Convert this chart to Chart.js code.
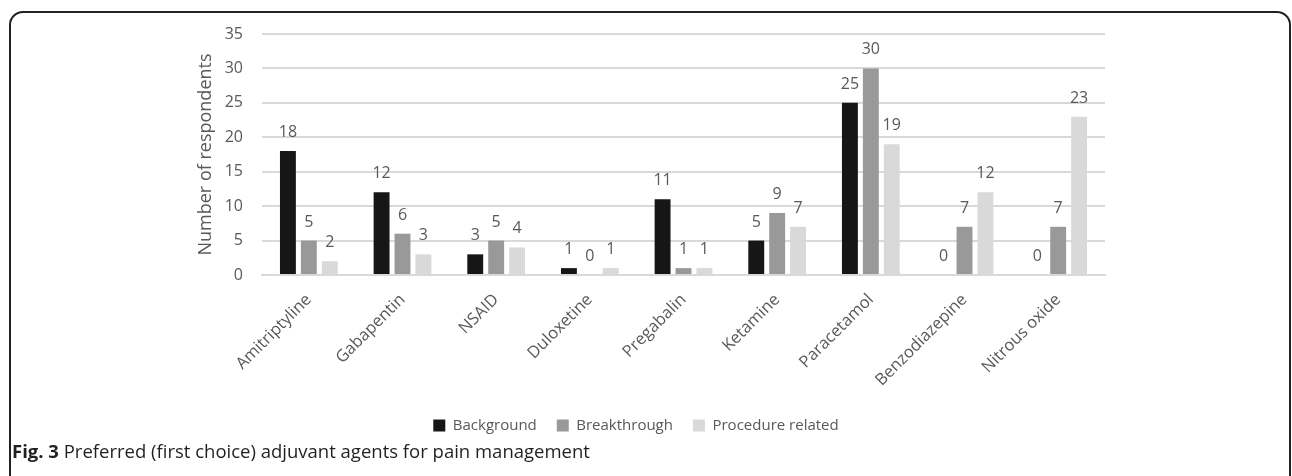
<!DOCTYPE html>
<html>
<head>
<meta charset="utf-8">
<script src="https://cdn.jsdelivr.net/npm/chart.js@4"></script>
<style>
  html, body { margin: 0; padding: 0; background: #fff; width: 1292px; height: 476px; overflow: hidden; }
  #frame { position: absolute; left: 9px; top: 11px; width: 1282px; height: 520px; border: 2px solid #222; border-radius: 14px; box-sizing: border-box; }
  #wrap { position: absolute; left: 10px; top: 0px; width: 1176px; height: 443px; }
  #caption { position: absolute; left: 12px; top: 438px; font-family: "Open Sans", sans-serif; font-size: 18.5px; color: #231f20; white-space: nowrap; }
  #caption b { font-weight: 700; }
</style>
</head>
<body>
<div id="frame"></div>
<div id="wrap"><canvas id="c" width="1176" height="443"></canvas></div>
<div id="caption"><b>Fig. 3</b> Preferred (first choice) adjuvant agents for pain management</div>
<script>
const categories = ["Amitriptyline","Gabapentin","NSAID","Duloxetine","Pregabalin","Ketamine","Paracetamol","Benzodiazepine","Nitrous oxide"];
const background = [18,12,3,1,11,5,25,0,0];
const breakthrough = [5,6,5,0,1,9,30,7,7];
const procedureRelated = [2,3,4,1,1,7,19,12,23];
const seriesNames = ["Background","Breakthrough","Procedure related"];
const yTicks = [0,5,10,15,20,25,30,35];

const textColor = "#595959";
const fontFam = "'Open Sans', sans-serif";

const dataLabels = {
  id: 'dataLabels',
  afterDatasetsDraw(chart) {
    const ctx = chart.ctx;
    ctx.save();
    ctx.font = "16px " + fontFam;
    ctx.fillStyle = textColor;
    ctx.textAlign = 'center';
    ctx.textBaseline = 'alphabetic';
    chart.data.datasets.forEach((ds, i) => {
      const meta = chart.getDatasetMeta(i);
      meta.data.forEach((bar, j) => {
        ctx.fillText(String(ds.data[j]), bar.x, bar.y - 14);
      });
    });
    ctx.restore();
  }
};

new Chart(document.getElementById('c'), {
  type: 'bar',
  data: {
    labels: categories,
    datasets: [
      { label: seriesNames[0], data: background, backgroundColor: '#161616' },
      { label: seriesNames[1], data: breakthrough, backgroundColor: '#999999' },
      { label: seriesNames[2], data: procedureRelated, backgroundColor: '#d9d9d9' }
    ]
  },
  options: {
    responsive: false,
    animation: false,
    devicePixelRatio: 1,
    layout: { padding: { top: 34, left: 157, right: 81, bottom: 0 } },
    datasets: { bar: { categoryPercentage: 0.67, barPercentage: 0.76, borderWidth: 0 } },
    plugins: {
      legend: {
        position: 'bottom',
        labels: { boxWidth: 12, boxHeight: 12, color: textColor, font: { size: 15, family: fontFam }, padding: 20 }
      },
      tooltip: { enabled: false }
    },
    scales: {
      x: {
        grid: { display: false, drawTicks: false },
        border: { display: true, color: '#d9d9d9', width: 2 },
        ticks: { color: textColor, font: { size: 16.5, family: fontFam }, minRotation: 45, maxRotation: 45, padding: 15, autoSkip: false },
        afterFit(scale) { scale.height = 123; }
      },
      y: {
        min: 0, max: 35,
        afterBuildTicks(scale) { scale.ticks = yTicks.map(v => ({ value: v })); },
        grid: { color: '#d9d9d9', lineWidth: 2, drawTicks: false },
        border: { display: false },
        ticks: { color: textColor, font: { size: 16, family: fontFam }, padding: 19 },
        title: { display: true, text: 'Number of respondents', color: textColor, font: { size: 18, family: fontFam }, padding: { top: 28, bottom: 4 } },
        afterFit(scale) { scale.width = 95; }
      }
    }
  },
  plugins: [dataLabels]
});
</script>
</body>
</html>
